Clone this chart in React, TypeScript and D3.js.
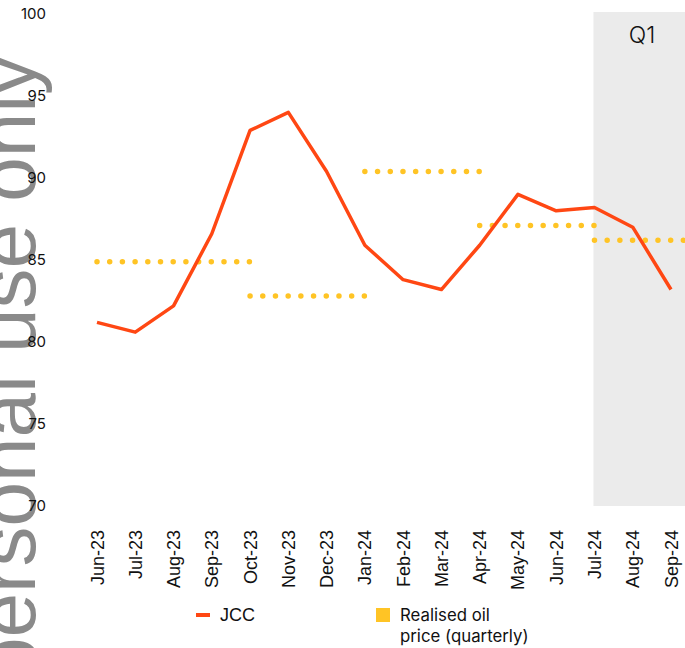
import React, { useEffect, useRef } from "react";
import { select, scaleLinear, scalePoint, line } from "d3";

const months = [
  "Jun-23", "Jul-23", "Aug-23", "Sep-23", "Oct-23", "Nov-23", "Dec-23", "Jan-24",
  "Feb-24", "Mar-24", "Apr-24", "May-24", "Jun-24", "Jul-24", "Aug-24", "Sep-24"
];
const jcc = [81.2, 80.6, 82.2, 86.6, 92.9, 94.0, 90.4, 85.9, 83.8, 83.2, 85.9, 89.0, 88.0, 88.2, 87.0, 83.2];

// quarterly realised price, drawn from month index start to end
const quarterStart = [0, 4, 7, 10, 13];
const quarterEnd = [4, 7, 10, 13, 16];
const realised = [84.9, 82.8, 90.4, 87.1, 86.2];

const yTicks = [70, 75, 80, 85, 90, 95, 100];
const shadeFrom = "Jul-24";
const shadeLabel = "Q1";

const App = () => {
  const ref = useRef<SVGSVGElement>(null);

  useEffect(() => {
    document.body.style.margin = "0";
    const width = 685;
    const svg = select(ref.current);
    svg.selectAll("*").remove();

    const x = scalePoint().domain(months).range([97, 671]);
    const step = x.step();
    const y = scaleLinear().domain([70, 100]).range([506, 14]);

    // watermark
    svg.append("text")
      .attr("transform", `translate(35, 682) rotate(-90)`)
      .attr("font-family", "Liberation Sans, Arial, sans-serif")
      .attr("font-size", 80)
      .attr("fill", "#8a8a8a")
      .text("personal use only");

    // shaded period
    svg.append("rect")
      .attr("x", x(shadeFrom)! - 1)
      .attr("y", y(100) - 2)
      .attr("width", width - x(shadeFrom)! + 1)
      .attr("height", y(70) - y(100) + 2)
      .attr("fill", "#ebebeb");

    svg.append("text")
      .attr("x", 642)
      .attr("y", 43)
      .attr("text-anchor", "middle")
      .attr("font-family", "Inter, sans-serif")
      .attr("font-weight", 300)
      .attr("font-size", 23)
      .attr("fill", "#111")
      .text(shadeLabel);

    // y labels
    svg.append("g").selectAll("text")
      .data(yTicks)
      .enter()
      .append("text")
      .attr("x", 46)
      .attr("y", d => y(d))
      .attr("dy", "0.35em")
      .attr("text-anchor", "end")
      .attr("font-family", "Inter, sans-serif")
      .attr("font-size", 15)
      .attr("fill", "#111")
      .text(d => d);

    // x labels
    svg.append("g").selectAll("text")
      .data(months)
      .enter()
      .append("text")
      .attr("transform", d => `translate(${x(d)! + 6.5}, 530) rotate(-90)`)
      .attr("text-anchor", "end")
      .attr("font-family", "Liberation Sans, Arial, sans-serif")
      .attr("font-size", 18)
      .attr("fill", "#111")
      .text(d => d);

    // realised quarterly dotted segments
    svg.append("g").selectAll("line")
      .data(realised)
      .enter()
      .append("line")
      .attr("x1", (d, i) => x(months[0])! + quarterStart[i] * step)
      .attr("x2", (d, i) => x(months[0])! + quarterEnd[i] * step)
      .attr("y1", d => y(d))
      .attr("y2", d => y(d))
      .attr("stroke", "#ffc425")
      .attr("stroke-width", 5.5)
      .attr("stroke-linecap", "round")
      .attr("stroke-dasharray", "0 12.7");

    // JCC line
    const path = line<number>()
      .x((d, i) => x(months[i])!)
      .y(d => y(d));
    svg.append("path")
      .attr("d", path(jcc))
      .attr("fill", "none")
      .attr("stroke", "#ff4713")
      .attr("stroke-width", 3.5)
      .attr("stroke-linejoin", "round");

    // legend
    const lg = svg.append("g");
    lg.append("line")
      .attr("x1", 196).attr("x2", 210)
      .attr("y1", 615).attr("y2", 615)
      .attr("stroke", "#ff4713")
      .attr("stroke-width", 4);
    lg.append("text")
      .attr("x", 220).attr("y", 621)
      .attr("font-family", "Liberation Sans, Arial, sans-serif")
      .attr("font-size", 18)
      .attr("fill", "#111")
      .text("JCC");
    lg.append("rect")
      .attr("x", 376).attr("y", 608)
      .attr("width", 14).attr("height", 14)
      .attr("fill", "#ffc425");
    lg.append("text")
      .attr("x", 400).attr("y", 621)
      .attr("font-family", "Inter, sans-serif")
      .attr("font-size", 16.8)
      .attr("fill", "#111")
      .text("Realised oil");
    lg.append("text")
      .attr("x", 400).attr("y", 642)
      .attr("font-family", "Inter, sans-serif")
      .attr("font-size", 16.8)
      .attr("fill", "#111")
      .text("price (quarterly)");
  }, []);

  return <svg ref={ref} width={685} height={648} style={{ display: "block" }} />;
};

export default App;
